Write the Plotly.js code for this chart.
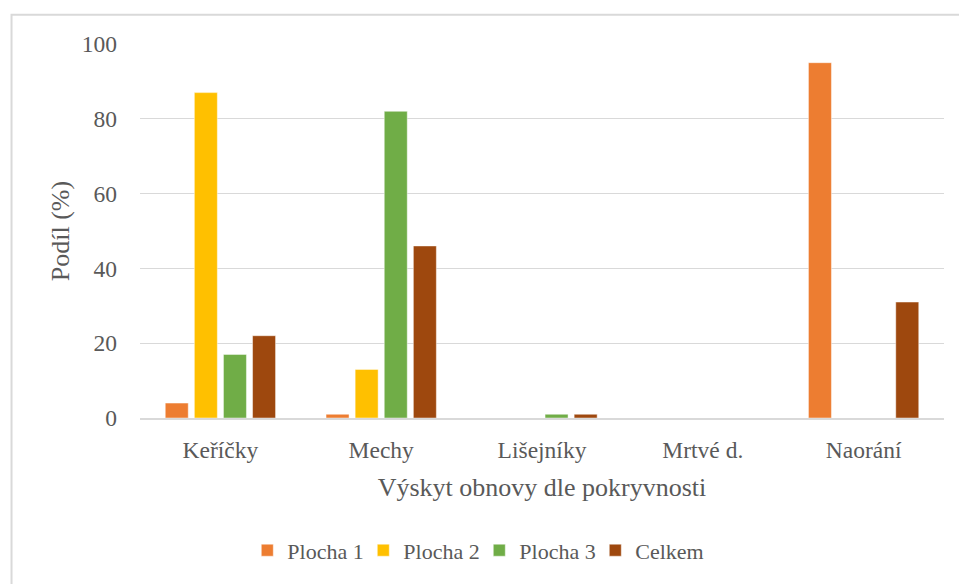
<!DOCTYPE html>
<html>
<head>
<meta charset="utf-8">
<script src="https://cdn.plot.ly/plotly-3.0.1.min.js"></script>
<style>
  html, body { margin: 0; padding: 0; background: #ffffff; }
  #chart { width: 959px; height: 584px; }
</style>
</head>
<body>
<div id="chart"></div>
<script>
// Categories of ground cover and the share of regeneration on each plot (%)
const categories = ["Keříčky", "Mechy", "Lišejníky", "Mrtvé d.", "Naorání"];
const plocha1 = [4, 1, 0, 0, 95];
const plocha2 = [87, 13, 0, 0, 0];
const plocha3 = [17, 82, 1, 0, 0];
const celkem  = [22, 46, 1, 0, 31];

const seriesNames = ["Plocha 1", "Plocha 2", "Plocha 3", "Celkem"];
const seriesValues = [plocha1, plocha2, plocha3, celkem];
const seriesColors = ["#ED7D31", "#FFC000", "#70AD47", "#9E480E"];

const yTicks = [0, 20, 40, 60, 80, 100];

const textColor = "#595959";
const fontFamily = "'Liberation Serif', 'Times New Roman', serif";

const traces = seriesNames.map((name, i) => ({
  type: "bar",
  name: name,
  x: categories,
  y: seriesValues[i],
  marker: {
    color: seriesColors[i],
    line: { color: "rgba(255,255,255,0.45)", width: 1 }
  },
  hoverinfo: "x+y+name"
}));

const layout = {
  width: 959,
  height: 584,
  margin: { l: 140, r: 15, t: 44, b: 164 },
  paper_bgcolor: "#ffffff",
  plot_bgcolor: "#ffffff",
  font: { family: fontFamily, color: textColor, size: 22 },
  barmode: "group",
  bargap: 0.276,
  bargroupgap: 0.21,
  showlegend: true,
  legend: {
    orientation: "h",
    x: 0.422,
    xanchor: "center",
    y: -0.354,
    yanchor: "middle",
    font: { family: fontFamily, size: 22, color: textColor },
    itemwidth: 30,
    entrywidth: 71,
    entrywidthmode: "pixels",
    traceorder: "normal"
  },
  xaxis: {
    type: "category",
    showgrid: false,
    showline: true,
    linecolor: "#d9d9d9",
    linewidth: 1.5,
    ticks: "",
    tickfont: { family: fontFamily, size: 23.5, color: textColor },
    ticklabelstandoff: 10,
    title: {
      text: "Výskyt obnovy dle pokryvnosti",
      font: { family: fontFamily, size: 26, color: textColor },
      standoff: 16
    },
    automargin: false,
    fixedrange: true
  },
  yaxis: {
    range: [0, 100],
    tickvals: yTicks,
    showgrid: true,
    gridcolor: "#d9d9d9",
    gridwidth: 1.3,
    zeroline: false,
    showline: false,
    ticks: "",
    tickfont: { family: fontFamily, size: 23.5, color: textColor },
    ticklabelstandoff: 22,
    title: {
      text: "Podíl (%)",
      font: { family: fontFamily, size: 26, color: textColor },
      standoff: 4
    },
    automargin: false,
    fixedrange: true
  },
  shapes: [
    {
      // chart frame
      type: "rect",
      xref: "paper", yref: "paper",
      x0: -0.1598, x1: 1.04,
      y0: -0.49, y1: 1.0785,
      line: { color: "#d9d9d9", width: 2 },
      fillcolor: "rgba(0,0,0,0)",
      layer: "below"
    }
  ]
};

Plotly.newPlot("chart", traces, layout, { displayModeBar: false, staticPlot: true });
</script>
</body>
</html>
